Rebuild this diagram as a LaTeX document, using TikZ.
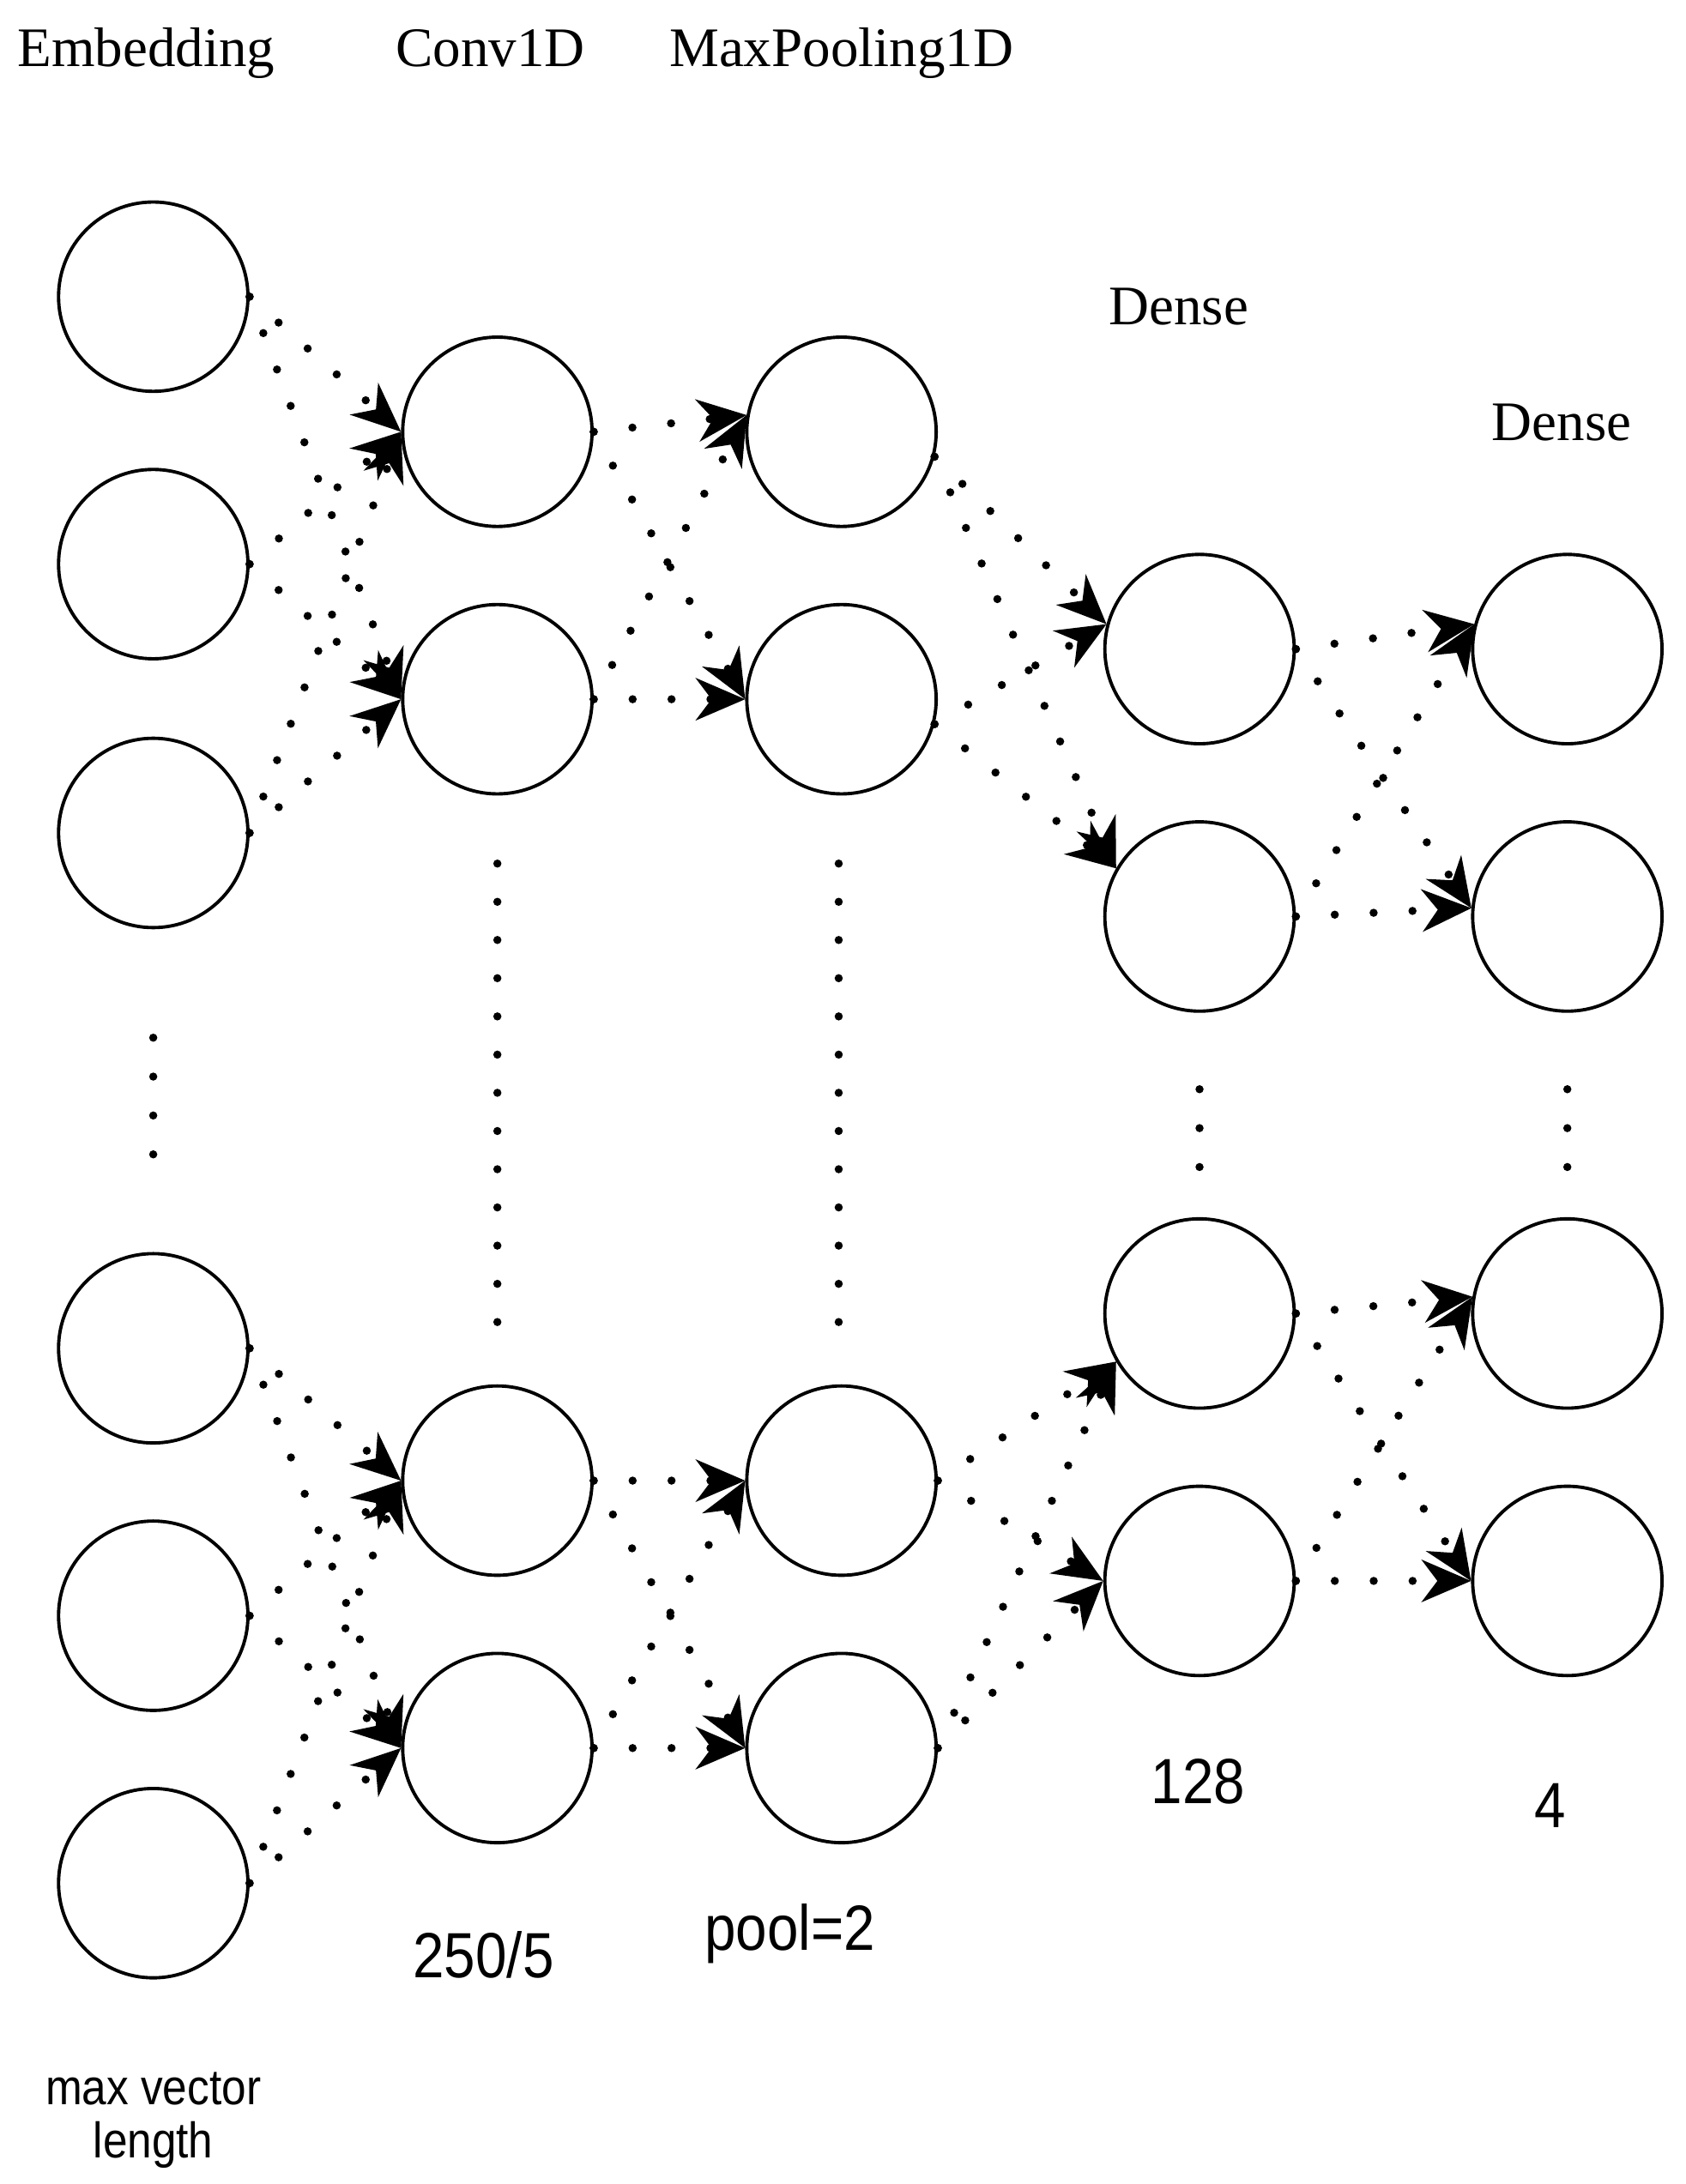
\documentclass[tikz,border=0pt]{standalone}
\usepackage{fontspec}
\setmainfont{Liberation Serif}
\newfontfamily\lblsans[FakeStretch=0.88]{Liberation Sans}
\usetikzlibrary{arrows.meta}
\begin{document}
\begin{tikzpicture}[x=0.016231cm,y=-0.016231cm,
  neuron/.style={circle,draw,line width=1.1pt,minimum size=2.207cm,inner sep=0pt},
  conn/.style={line width=2.7pt,line cap=round,dash pattern=on 0pt off 12.9pt,
    -{Stealth[length=0.58cm,width=0.5cm,line width=0pt]}},
  vdots/.style={line width=2.7pt,line cap=round,dash pattern=on 0pt off #1},
  layer/.style={font=\fontsize{18.5}{20}\selectfont,anchor=base,inner sep=0pt},
  num/.style={font=\lblsans\fontsize{21.2}{24}\selectfont,anchor=base,inner sep=0pt},
  small/.style={font=\lblsans\fontsize{16.6}{17.5}\selectfont,align=center,anchor=base,inner sep=0pt}]
\useasboundingbox[fill=white] (0,0) rectangle (1210,1568);

% neurons
\node[neuron] (E1) at (110,213) {};
\node[neuron] (E2) at (110,405) {};
\node[neuron] (E3) at (110,598) {};
\node[neuron] (E4) at (110,968) {};
\node[neuron] (E5) at (110,1160) {};
\node[neuron] (E6) at (110,1352) {};
\node[neuron] (C1) at (357,310) {};
\node[neuron] (C2) at (357,502) {};
\node[neuron] (C3) at (357,1063) {};
\node[neuron] (C4) at (357,1255) {};
\node[neuron] (M1) at (604,310) {};
\node[neuron] (M2) at (604,502) {};
\node[neuron] (M3) at (604,1063) {};
\node[neuron] (M4) at (604,1255) {};
\node[neuron] (D1) at (861,466) {};
\node[neuron] (D2) at (861,658) {};
\node[neuron] (D3) at (861,943) {};
\node[neuron] (D4) at (861,1135) {};
\node[neuron] (F1) at (1125,466) {};
\node[neuron] (F2) at (1125,658) {};
\node[neuron] (F3) at (1125,943) {};
\node[neuron] (F4) at (1125,1135) {};

% Embedding -> Conv1D
\foreach \s in {E1,E2,E3}{\foreach \t in {C1,C2}{\draw[conn] (\s.east) -- (\t.west);}}
\foreach \s in {E4,E5,E6}{\foreach \t in {C3,C4}{\draw[conn] (\s.east) -- (\t.west);}}
% Conv1D -> MaxPooling1D
\draw[conn] (C1.east) -- (M1.170);
\draw[conn] (C2.east) -- (M1.170);
\draw[conn] (C1.east) -- (M2.west);
\draw[conn] (C2.east) -- (M2.west);
\draw[conn] (C3.east) -- (M3.west);
\draw[conn] (C4.east) -- (M3.west);
\draw[conn] (C3.east) -- (M4.west);
\draw[conn] (C4.east) -- (M4.west);
% MaxPooling1D -> Dense 128
\draw[conn] (M1.-15) -- (D1.165);
\draw[conn] (M2.-15) -- (D1.165);
\draw[conn] (M1.-15) -- (D2.150);
\draw[conn] (M2.-15) -- (D2.150);
\draw[conn] (M3.east) -- (D3.210);
\draw[conn] (M4.east) -- (D3.210);
\draw[conn] (M3.east) -- (D4.west);
\draw[conn] (M4.east) -- (D4.west);
% Dense 128 -> Dense 4
\draw[conn] (D1.east) -- (F1.165);
\draw[conn] (D2.east) -- (F1.165);
\draw[conn] (D1.east) -- (F2.175);
\draw[conn] (D2.east) -- (F2.175);
\draw[conn] (D3.east) -- (F3.170);
\draw[conn] (D4.east) -- (F3.170);
\draw[conn] (D3.east) -- (F4.west);
\draw[conn] (D4.east) -- (F4.west);

% vertical ellipsis dots
\draw[vdots=12.9pt] (110,745) -- (110,829);
\draw[vdots=12.67pt] (357,620) -- (357,950);
\draw[vdots=12.67pt] (602,620) -- (602,950);
\draw[vdots=12.9pt] (861,782) -- (861,838);
\draw[vdots=12.9pt] (1125,782) -- (1125,838);

% labels
\node[layer] (tE) at (105,48) {Embedding};
\node[layer] (tC) at (352,48) {Conv1D};
\node[layer] (tM) at (604,48) {MaxPooling1D};
\node[layer] (tD1) at (846,233) {Dense};
\node[layer] (tD2) at (1121,316) {Dense};
\node[num] (n1) at (347,1420) {250/5};
\node[num] (n2) at (567,1400) {pool=2};
\node[num] (n3) at (860,1295) {128};
\node[num] (n4) at (1113,1312) {4};
\node[small] (n5) at (110,1549) {max vector\\length};
\end{tikzpicture}
\end{document}
